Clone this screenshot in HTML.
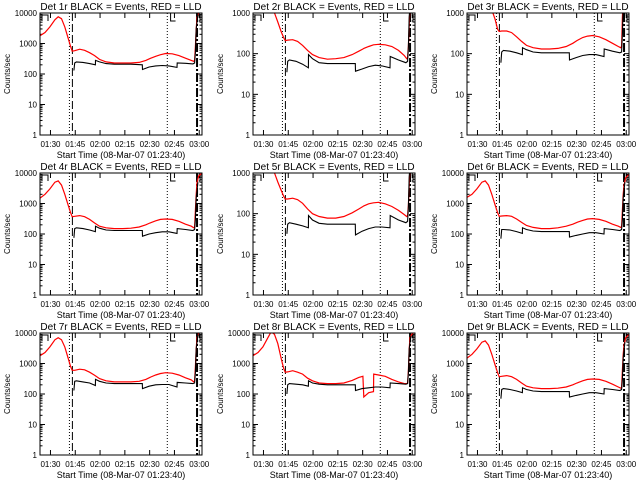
<!DOCTYPE html>
<html><head><meta charset="utf-8"><style>
html,body{margin:0;padding:0;background:#fff;}
svg{display:block;font-family:"Liberation Sans",sans-serif;}
</style></head><body>
<svg id="c" width="640" height="480" viewBox="0 0 640 480"></svg>
<script>
// ---- data (minutes after 01:23:40) ----
const redTimes=[0,3,6,9,11,13,15,17,18.5,19.5,21,24,27,30,33,36,40,45,50,55,60,64,66.5,67,70,72.9,73,76,80,84,88,91.5,93,93.5,94,94.5,95,96,98];
const blackTimes=[20.5,21,22,26,30,33.5,33.6,36,40,45,50,55,61.9,62,66,70,74,78,82.9,83,88,92.5,93.5,94,94.5,95.5];
const panelNames=["Det 1r","Det 2r","Det 3r","Det 4r","Det 5r","Det 6r","Det 7r","Det 8r","Det 9r"];
const panelDecades=[4,3,3,4,3,4,4,4,4];
const red1=[1800,2300,3500,6000,7500,6500,3500,1500,800,560,580,650,600,500,400,300,250,230,230,230,240,280,320,330,380,430,430,470,460,400,330,280,260,280,800,3000,7000,10000,12000];
const red2=[5000,6000,8000,5000,2000,1000,600,350,250,210,215,220,200,160,120,95,80,73,75,80,95,115,130,135,150,165,165,170,165,150,120,90,75,80,150,500,1500,3000,5000];
const red3=[5000,6000,7000,5000,3000,2000,1200,700,400,350,360,360,330,260,200,160,140,130,130,135,150,180,210,215,250,270,270,280,260,220,180,150,140,150,800,2000,3000,5000,6000];
const red4=[1500,2000,3000,5000,5500,4000,2000,900,500,370,380,400,370,300,230,180,160,150,150,155,170,200,230,235,270,300,300,310,300,260,210,180,160,170,600,2000,5000,8000,10000];
const red5=[5000,6000,8000,5000,2000,1000,600,380,270,230,230,240,220,180,130,100,85,78,78,85,105,130,150,155,175,185,185,190,175,150,120,95,85,90,160,500,1500,3000,5000];
const red6=[1600,2000,3000,5000,5500,4000,2000,900,500,380,390,400,380,310,240,190,165,150,150,160,180,210,240,245,280,310,310,320,300,260,210,180,165,175,600,2000,4000,7000,9000];
const red7=[1800,2300,3500,6000,7000,6000,3500,1500,800,600,600,650,620,520,410,320,270,250,250,250,260,300,350,360,420,470,470,500,480,420,340,290,250,270,800,3000,7000,10000,12000];
const red8=[1800,2300,3500,7000,11000,9000,4500,1500,700,520,530,580,520,450,330,270,230,220,220,230,280,350,380,80,110,120,450,420,380,300,250,220,220,230,600,3000,7000,9000,11000];
const red9=[1500,2000,3000,5000,5500,4000,2000,900,500,370,380,400,370,300,230,180,160,150,150,155,170,200,230,235,270,300,300,310,300,260,210,170,155,165,600,2000,4000,7000,9000];
const blk1=[130,230,250,240,220,200,280,250,220,210,210,210,200,140,170,185,190,185,165,230,225,215,230,500,3000,9000];
const blk2=[35,65,70,65,55,45,95,75,60,57,57,57,57,37,42,48,52,50,45,85,70,60,65,150,800,3000];
const blk3=[60,110,120,115,105,95,140,125,110,105,105,105,105,70,80,90,95,95,85,130,115,105,110,300,1500,3000];
const blk4=[75,150,160,150,135,120,180,155,135,130,130,130,130,85,100,110,118,118,105,150,140,130,140,300,1500,5000];
const blk5=[32,55,60,55,50,45,90,70,58,55,55,55,55,30,37,43,47,47,45,90,70,60,65,150,800,3000];
const blk6=[70,140,140,135,120,105,160,140,125,120,120,120,120,80,90,100,110,110,100,150,140,130,140,300,1500,5000];
const blk7=[130,260,270,250,230,190,300,260,230,220,220,220,220,150,180,200,205,205,170,240,230,220,230,500,3000,9000];
const blk8=[100,200,220,210,200,180,270,230,210,200,200,200,200,130,150,160,170,170,160,230,220,210,220,500,3000,8000];
const blk9=[70,140,150,140,125,110,160,140,125,120,120,120,120,80,90,100,110,110,100,150,140,130,140,300,1500,5000];
const redSeries=[red1,red2,red3,red4,red5,red6,red7,red8,red9];
const blackSeries=[blk1,blk2,blk3,blk4,blk5,blk6,blk7,blk8,blk9];
const xTickLabels=["01:30","01:45","02:00","02:15","02:30","02:45","03:00"];
const xTickTimes=[6.333,21.333,36.333,51.333,66.333,81.333,96.333];
const markerTimes=[17.8,19.6,77,95];
const tMax=98;

const NS="http://www.w3.org/2000/svg";
const svg=document.getElementById('c');
function mk(tag,attrs,parent){const e=document.createElementNS(NS,tag);for(const k in attrs)e.setAttribute(k,attrs[k]);(parent||svg).appendChild(e);return e;}
const colX=[0,213,427],rowY=[0,160,320];
const W=162,H=122;
for(let p=0;p<9;p++){
  const L=colX[p%3]+40,T=rowY[Math.floor(p/3)]+13,B=T+H,R=L+W,dec=panelDecades[p];
  const xs=t=>L+W*t/tMax;
  const ys=v=>T+H*(1-Math.log10(v)/dec);
  const g=mk('g',{});
  
  
  const cid='clip'+p;
  const cp=mk('clipPath',{id:cid},g);mk('rect',{x:L,y:T,width:W,height:H},cp);
  const ti=mk('text',{x:L+W/2,y:T-3,'text-anchor':'middle','font-size':'10'},g);
  ti.textContent=panelNames[p]+" BLACK = Events, RED = LLD";
  
  
  const yl=mk('text',{x:0,y:0,'text-anchor':'middle','font-size':'8',transform:`translate(${L-30},${T+H/2}) rotate(-90)`},g);
  yl.textContent="Counts/sec";
  
  
  const xl=mk('text',{x:L+W/2,y:B+23,'text-anchor':'middle','font-size':'9'},g);
  xl.textContent="Start Time (08-Mar-07 01:23:40)";
  
  
  for(let d=0;d<=dec;d++){
    const y=ys(Math.pow(10,d));
    mk('line',{x1:L,x2:L+5,y1:y,y2:y,stroke:'#000'},g);
    mk('line',{x1:R-5,x2:R,y1:y,y2:y,stroke:'#000'},g);
    const tl=mk('text',{x:L-3,y:y+3,'text-anchor':'end','font-size':'8'},g);
    tl.textContent=String(Math.pow(10,d));
    
    
    if(d<dec)for(let m=2;m<10;m++){const ym=ys(m*Math.pow(10,d));
      mk('line',{x1:L,x2:L+2.5,y1:ym,y2:ym,stroke:'#000'},g);
      mk('line',{x1:R-2.5,x2:R,y1:ym,y2:ym,stroke:'#000'},g);}
  }
  for(let i=0;i<xTickTimes.length;i++){
    const x=xs(xTickTimes[i]);
    mk('line',{x1:x,x2:x,y1:B,y2:B-5,stroke:'#000'},g);
    mk('line',{x1:x,x2:x,y1:T,y2:T+5,stroke:'#000'},g);
    const tl=mk('text',{x:x,y:B+12,'text-anchor':'middle','font-size':'8'},g);
    tl.textContent=xTickLabels[i];
    
    
  }
  const m1=mk('line',{x1:xs(markerTimes[0]),x2:xs(markerTimes[0]),y1:T,y2:B,stroke:'#000','stroke-dasharray':'1,2'},g);
  
  const m2=mk('line',{x1:xs(markerTimes[1]),x2:xs(markerTimes[1]),y1:T,y2:B,stroke:'#000','stroke-dasharray':'8,3'},g);
  
  const m3=mk('line',{x1:xs(markerTimes[2]),x2:xs(markerTimes[2]),y1:T,y2:B,stroke:'#000','stroke-dasharray':'1,2'},g);
  
  const m4=mk('line',{x1:xs(markerTimes[3]),x2:xs(markerTimes[3]),y1:T,y2:B,stroke:'#000','stroke-width':'2','stroke-dasharray':'9,2,2,2'},g);
  
  mk('path',{d:`M${L+2},${T+8}V${T+2}H${L+8}V${T+8}`,fill:'none',stroke:'#000'},g);
  mk('path',{d:`M${xs(79)},${T}V${T+8}H${xs(82)}`,fill:'none',stroke:'#000'},g);
  mk('path',{d:`M${xs(96)},${T+2}H${R-2}V${T+8}H${xs(96)}`,fill:'none',stroke:'#000'},g);
  const cg=mk('g',{'clip-path':`url(#${cid})`},g);
  const rv=redSeries[p];
  let d='';for(let i=0;i<redTimes.length;i++)d+=(i?'L':'M')+xs(redTimes[i]).toFixed(1)+','+ys(rv[i]).toFixed(1);
  const rp=mk('path',{d:d,fill:'none',stroke:'#f00','stroke-width':'1.2'},cg);
  
  
  const bv=blackSeries[p];
  d='';for(let i=0;i<blackTimes.length;i++)d+=(i?'L':'M')+xs(blackTimes[i]).toFixed(1)+','+ys(bv[i]).toFixed(1);
  const bp=mk('path',{d:d,fill:'none',stroke:'#000','stroke-width':'1.1'},cg);
  
  
  mk('rect',{x:L,y:T,width:W,height:H,fill:'none',stroke:'#000'},g);
}
</script>
</body></html>
